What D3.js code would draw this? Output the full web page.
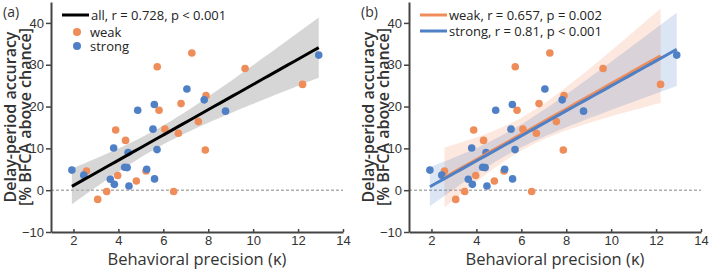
<!DOCTYPE html>
<html>
<head>
<meta charset="utf-8">
<script src="https://cdn.jsdelivr.net/npm/d3@7"></script>
<style>
  body { margin: 0; background: #fff; }
  svg { display: block; font-family: "Open Sans", sans-serif; }
</style>
</head>
<body>
<svg id="chart" width="709" height="270"></svg>
<script>
// weak-group points: [kappa, accuracy]
const weakX = [2.58, 3.08, 3.48, 3.88, 3.97, 4.32, 4.8, 5.23, 5.73, 5.81, 6.07, 6.46, 6.67, 6.79, 7.27, 7.56, 7.9, 7.87, 9.64, 12.2];
const weakY = [4.6, -2.2, -0.3, 14.4, 3.5, 11.9, 2.2, 4.6, 29.5, 19.1, 14.6, -0.3, 13.6, 20.7, 32.8, 16.4, 22.6, 9.6, 29.1, 25.3];
// strong-group points
const strongX = [1.93, 2.46, 3.64, 3.79, 3.82, 4.28, 4.39, 4.43, 4.47, 4.86, 5.26, 5.54, 5.6, 5.61, 5.72, 7.05, 7.82, 8.77, 12.92];
const strongY = [4.8, 3.6, 2.6, 10.1, 1.4, 5.5, 5.4, 9.0, 1.0, 19.1, 5.0, 14.6, 20.5, 2.7, 9.7, 24.2, 21.6, 18.9, 32.3];

const xTicks = [2, 4, 6, 8, 10, 12, 14];
const yTicks = [-10, 0, 10, 20, 30, 40];
const legendA = ["all, r = 0.728, p < 0.001", "weak", "strong"];
const legendB = ["weak, r = 0.657, p = 0.002", "strong, r = 0.81, p < 0.001"];
// two-sided 95% t critical values (df = n - 2)
const tCrit = { all: 2.026, weak: 2.101, strong: 2.110 };

const ORANGE = "#ef8d5a", BLUE = "#4f7fc4", AXIS = "#444";

const svg = d3.select("#chart");

function fit(xs, ys, t) {
  const n = xs.length;
  const mx = d3.mean(xs), my = d3.mean(ys);
  let sxx = 0, sxy = 0;
  xs.forEach((x, i) => { sxx += (x - mx) ** 2; sxy += (x - mx) * (ys[i] - my); });
  const b = sxy / sxx, a = my - b * mx;
  const sse = d3.sum(xs, (x, i) => (ys[i] - a - b * x) ** 2);
  const s = Math.sqrt(sse / (n - 2));
  const [x0, x1] = d3.extent(xs);
  return d3.range(0, 41).map((k) => {
    const x = x0 + (x1 - x0) * k / 40;
    const yh = a + b * x;
    const se = s * Math.sqrt(1 / n + (x - mx) ** 2 / sxx);
    return { x, y: yh, lo: yh - t * se, hi: yh + t * se };
  });
}

function panel(left, label) {
  const x = d3.scaleLinear().domain([1, 14]).range([left, left + 292]);
  const y = d3.scaleLinear().domain([-10, 45]).range([232, 2]);
  const g = svg.append("g");

  g.append("line")
    .attr("x1", x(1)).attr("x2", x(14))
    .attr("y1", y(0)).attr("y2", y(0))
    .attr("stroke", "#888").attr("stroke-width", 1)
    .attr("stroke-dasharray", "3,2");

  // x ticks point inward, y ticks outward
  const xAxis = g.append("g")
    .attr("transform", `translate(0,${y(-10)})`)
    .call(d3.axisBottom(x).tickValues(xTicks).tickSize(-3).tickPadding(4).tickSizeOuter(0));
  const yAxis = g.append("g")
    .attr("transform", `translate(${x(1)},0)`)
    .call(d3.axisLeft(y).tickValues(yTicks).tickSize(5).tickPadding(2).tickSizeOuter(0));
  [xAxis, yAxis].forEach((ax) => {
    ax.select(".domain").attr("stroke", AXIS).attr("stroke-width", 2);
    ax.selectAll(".tick line").attr("stroke", AXIS).attr("stroke-width", 1.5);
    ax.selectAll(".tick text").attr("fill", "#333").style("font-size", "13px");
  });

  g.append("text")
    .attr("x", x(7.5)).attr("y", 265)
    .attr("text-anchor", "middle")
    .attr("fill", "#333").style("font-size", "16.5px")
    .text("Behavioral precision (κ)");

  const yl = g.append("text")
    .attr("transform", `translate(${left - 35.5},${y(17.5)}) rotate(-90)`)
    .attr("text-anchor", "middle")
    .attr("fill", "#333").style("font-size", "16px").style("font-weight", 600);
  yl.append("tspan").attr("x", 0).attr("y", 0).text("Delay-period accuracy");
  yl.append("tspan").attr("x", 0).attr("y", 15).text("[% BFCA above chance]");

  svg.append("text")
    .attr("x", left - 48).attr("y", 17)
    .attr("fill", "#333").style("font-size", "14px")
    .text(label);

  return { g, x, y };
}

function band(g, x, y, pts, fill, op) {
  g.append("path")
    .datum(pts)
    .attr("d", d3.area().x((d) => x(d.x)).y0((d) => y(d.lo)).y1((d) => y(d.hi)))
    .attr("fill", fill).attr("fill-opacity", op);
}
function fitLine(g, x, y, pts, color, w) {
  g.append("path")
    .datum(pts)
    .attr("d", d3.line().x((d) => x(d.x)).y((d) => y(d.y)))
    .attr("fill", "none").attr("stroke", color).attr("stroke-width", w);
}
function dots(g, x, y, xs, ys, color) {
  g.append("g").selectAll("circle")
    .data(xs.map((v, i) => [v, ys[i]]))
    .join("circle")
    .attr("cx", (d) => x(d[0])).attr("cy", (d) => y(d[1]))
    .attr("r", 3.8).attr("fill", color);
}

// panel (a)
{
  const { g, x, y } = panel(51, "(a)");
  const allX = weakX.concat(strongX), allY = weakY.concat(strongY);
  const pts = fit(allX, allY, tCrit.all);
  band(g, x, y, pts, "#b4b4b4", 0.55);
  dots(g, x, y, weakX, weakY, ORANGE);
  dots(g, x, y, strongX, strongY, BLUE);
  fitLine(g, x, y, pts, "#000", 3);

  const lg = svg.append("g").style("font-size", "13px").attr("fill", "#222");
  lg.append("line").attr("x1", 62).attr("x2", 89).attr("y1", 15).attr("y2", 15)
    .attr("stroke", "#000").attr("stroke-width", 3);
  lg.append("text").attr("x", 91).attr("y", 19.5).text(legendA[0]);
  lg.append("circle").attr("cx", 77).attr("cy", 32).attr("r", 4).attr("fill", ORANGE);
  lg.append("text").attr("x", 90).attr("y", 37).text(legendA[1]);
  lg.append("circle").attr("cx", 77).attr("cy", 46).attr("r", 4).attr("fill", BLUE);
  lg.append("text").attr("x", 90).attr("y", 51).text(legendA[2]);
}

// panel (b)
{
  const { g, x, y } = panel(409, "(b)");
  const pw = fit(weakX, weakY, tCrit.weak);
  const ps = fit(strongX, strongY, tCrit.strong);
  band(g, x, y, pw, ORANGE, 0.2);
  band(g, x, y, ps, BLUE, 0.2);
  dots(g, x, y, weakX, weakY, ORANGE);
  dots(g, x, y, strongX, strongY, BLUE);
  fitLine(g, x, y, pw, ORANGE, 3);
  fitLine(g, x, y, ps, BLUE, 3);

  const lg = svg.append("g").style("font-size", "13px").attr("fill", "#222");
  [[ORANGE, legendB[0]], [BLUE, legendB[1]]].forEach(([c, t], i) => {
    lg.append("line").attr("x1", 420).attr("x2", 447).attr("y1", 15 + i * 16).attr("y2", 15 + i * 16)
      .attr("stroke", c).attr("stroke-width", 3);
    lg.append("text").attr("x", 449).attr("y", 19.5 + i * 16).text(t);
  });
}
</script>
</body>
</html>
